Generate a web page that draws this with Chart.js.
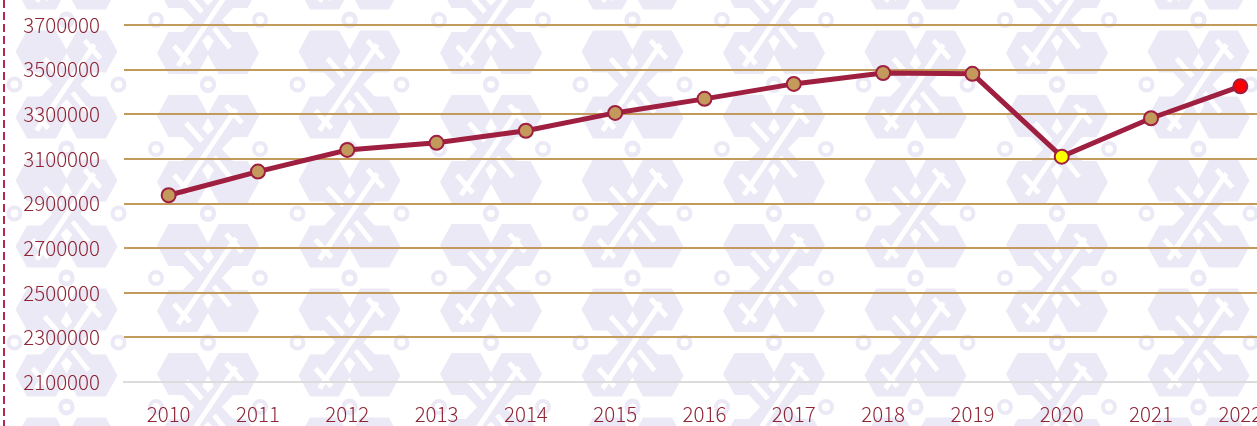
<!DOCTYPE html>
<html>
<head>
<meta charset="utf-8">
<script src="https://cdn.jsdelivr.net/npm/chart.js@4/dist/chart.umd.min.js"></script>
<style>
  html, body { margin: 0; padding: 0; overflow: hidden; width: 1257px; height: 426px; background: #fff; }
  #wrap { position: absolute; left: 0; top: 0; width: 1294px; height: 426px; }
  #bg { position: absolute; left: 0; top: 0; width: 1257px; height: 426px; }
  #dash { position: absolute; left: 3px; top: 0; width: 2px; height: 426px;
          background: repeating-linear-gradient(to bottom, #b3294d 0 8px, transparent 8px 12px); }
</style>
</head>
<body>
<div id="bg"></div>
<div id="wrap"><canvas id="c"></canvas></div>
<div id="dash"></div>
<script>
// ---- data ----
const years = ['2010','2011','2012','2013','2014','2015','2016','2017','2018','2019','2020','2021','2022'];
const values = [2937000, 3043000, 3140000, 3172000, 3226000, 3306000, 3369000, 3436000, 3485000, 3481000, 3110000, 3282000, 3425000];
const highlightYear = '2020';
const yMin = 2100000;
const yMax = 3700000;
const yStep = 200000;

// ---- watermark background (decorative) ----
(function(){
  const col = '#ebe9f5';
  function hex(x, y, w, h){
    const c = h/2*0.55;
    const pts = [[x-w/2, y],[x-w/2+c, y-h/2],[x+w/2-c, y-h/2],[x+w/2, y],[x+w/2-c, y+h/2],[x-w/2+c, y+h/2]]
      .map(p=>p[0].toFixed(1)+','+p[1].toFixed(1)).join(' ');
    return `<polygon points="${pts}" fill="${col}"/>`;
  }
  function logo(cx, cy){
    let s = '';
    s += `<line x1="${cx-36}" y1="${cy-38}" x2="${cx+36}" y2="${cy+38}" stroke="${col}" stroke-width="20"/>`;
    s += `<line x1="${cx+36}" y1="${cy-38}" x2="${cx-36}" y2="${cy+38}" stroke="${col}" stroke-width="20"/>`;
    [[-25,-33],[25,-33],[-25,33],[25,33]].forEach(([dx,dy])=>{ s += hex(cx+dx, cy+dy, 52, 42); });
    s += `<line x1="${cx-30}" y1="${cy+46}" x2="${cx+28}" y2="${cy-40}" stroke="#fff" stroke-width="5"/>`;
    s += `<line x1="${cx-22}" y1="${cy-26}" x2="${cx-6}" y2="${cy-8}" stroke="#fff" stroke-width="5"/>`;
    s += `<line x1="${cx+6}" y1="${cy+8}" x2="${cx+22}" y2="${cy+28}" stroke="#fff" stroke-width="5"/>`;
    s += `<line x1="${cx+18}" y1="${cy-44}" x2="${cx+34}" y2="${cy-26}" stroke="#fff" stroke-width="5"/>`;
    s += `<line x1="${cx-34}" y1="${cy+26}" x2="${cx-18}" y2="${cy+44}" stroke="#fff" stroke-width="5"/>`;
    [[-52,0],[52,0],[0,-65],[0,65]].forEach(([dx,dy])=>{
      s += `<circle cx="${cx+dx}" cy="${cy+dy}" r="6" fill="none" stroke="${col}" stroke-width="4"/>`;
    });
    return s;
  }
  const W = 283, H = 129;
  let inner = '';
  [[0,0],[W,0],[0,H],[W,H],[W/2,H/2],[-W/2,H/2],[W/2,-H/2],[W/2,H*1.5],[W*1.5,H/2]].forEach(([x,y])=>{ inner += logo(x,y); });
  const svg = `<svg xmlns="http://www.w3.org/2000/svg" width="${W}" height="${H}">${inner}</svg>`;
  const bg = document.getElementById('bg');
  bg.style.backgroundImage = 'url("data:image/svg+xml;utf8,' + encodeURIComponent(svg) + '")';
  bg.style.backgroundPosition = '208px 20px';
})();

// ---- chart ----
const lineColor = '#9e1f40';
const gold = '#c49a5c';
const labelColor = '#8e2535';
const hiIdx = years.indexOf(highlightYear);
const lastIdx = values.length - 1;
const font = { family: '"Noto Sans CJK SC", "Noto Sans", sans-serif', size: 20.5, weight: '300' };

new Chart(document.getElementById('c'), {
  type: 'line',
  data: {
    labels: years,
    datasets: [{
      data: values,
      borderColor: lineColor,
      borderWidth: 5,
      tension: 0,
      pointRadius: 7,
      pointHoverRadius: 7,
      pointBorderWidth: 2,
      pointBorderColor: lineColor,
      pointBackgroundColor: (ctx) => ctx.dataIndex === hiIdx ? '#ffff00' : (ctx.dataIndex === lastIdx ? '#ff0000' : gold)
    }]
  },
  options: {
    responsive: true,
    maintainAspectRatio: false,
    animation: false,
    layout: { padding: { top: 25, right: 0, left: 0, bottom: 0 } },
    plugins: { legend: { display: false }, tooltip: { enabled: false } },
    scales: {
      x: {
        offset: true,
        grid: { display: false, drawTicks: false },
        border: { display: true, color: '#dcdcdc', width: 2 },
        ticks: { color: labelColor, font: font, padding: 20, maxRotation: 0, autoSkip: false },
        afterFit: (s) => { s.height = 44; s.paddingLeft = 0; s.paddingRight = 0; }
      },
      y: {
        min: yMin,
        max: yMax,
        grid: { color: gold, lineWidth: 2, drawTicks: false },
        border: { display: false },
        ticks: { stepSize: yStep, color: labelColor, font: font, padding: 24, callback: (v) => String(v) },
        afterFit: (s) => { s.width = 124; s.paddingTop = 0; s.paddingBottom = 0; }
      }
    }
  }
});
</script>
</body>
</html>
